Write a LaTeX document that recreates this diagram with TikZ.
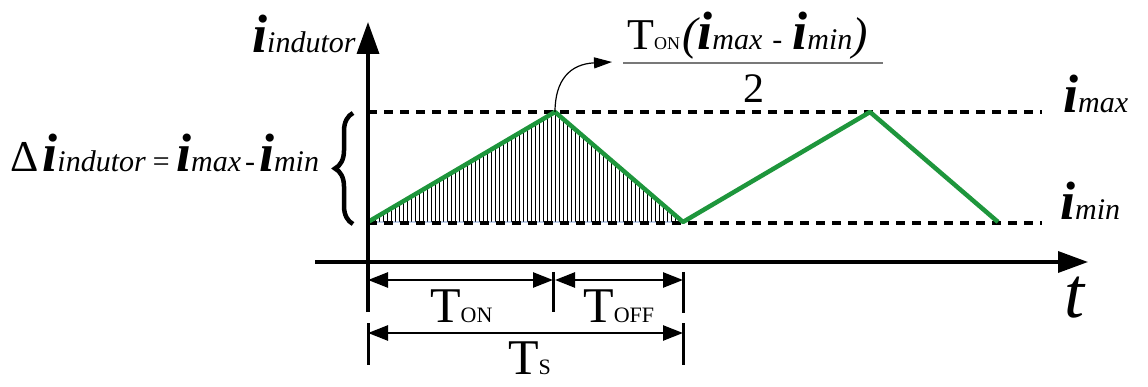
\documentclass[tikz,border=0pt]{standalone}
\usepackage{fontspec}
\setmainfont{Liberation Serif}
\usetikzlibrary{arrows.meta,decorations.pathreplacing}
\definecolor{wavegreen}{RGB}{30,150,60}
\definecolor{hatchedge}{RGB}{80,120,190}
\definecolor{fracgray}{RGB}{120,120,120}
\newcommand\bigI{{\fontsize{54}{54}\selectfont\bfseries\itshape i}}
\newcommand\subI[1]{{\fontsize{30}{30}\selectfont\itshape #1}}
\newcommand\Tlab[1]{{\fontsize{50}{50}\selectfont T}{\fontsize{22}{22}\selectfont #1}}
\begin{document}
\begin{tikzpicture}[x=1pt,y=-1pt,
  lab/.style={inner sep=0pt, anchor=base west},
  axis/.style={line width=3.5pt},
  level/.style={line width=3.5pt, dash pattern=on 9pt off 7pt},
  ripple/.style={wavegreen, line width=4.5pt, line join=round},
  dim/.style={line width=2.5pt, {Triangle[length=20pt,width=15pt]}-{Triangle[length=20pt,width=15pt]}},
  tickline/.style={line width=3pt},
]
\useasboundingbox (0,0) rectangle (1148,387);
% key points
\coordinate (p0) at (368,222);
\coordinate (p1) at (555,112);
\coordinate (p2) at (683,222);
\coordinate (p3) at (870,112);
\coordinate (p4) at (998,222);
% hatched area
\begin{scope}
  \clip (p0) -- (p1) -- (p2) -- cycle;
  \foreach \x in {371,375,...,683} \draw[line width=0.7pt] (\x,100) -- (\x,230);
\end{scope}
\draw[hatchedge, line width=0.9pt] (p0) -- (p1) -- (p2) -- cycle;
% levels
\coordinate (maxa) at (368,112); \coordinate (maxb) at (1042,112);
\coordinate (mina) at (368,223); \coordinate (minb) at (1042,223);
\draw[level] (maxa) -- (maxb);
\draw[level] (mina) -- (minb);
% waveform
\draw[ripple] (p0) -- (p1) -- (p2) -- (p3) -- (p4);
% axes
\coordinate (yb) at (368,312); \coordinate (yt) at (368,22);
\coordinate (xl) at (315,262); \coordinate (xr) at (1088,262);
\draw[axis, -{Triangle[length=32pt,width=22pt]}] (yb) -- (yt);
\draw[axis, -{Triangle[length=30pt,width=21pt]}] (xl) -- (xr);
% ticks
\coordinate (t1a) at (553,272); \coordinate (t1b) at (553,312);
\coordinate (t2a) at (683,272); \coordinate (t2b) at (683,313);
\coordinate (t3a) at (368,323); \coordinate (t3b) at (368,365);
\coordinate (t4a) at (683,323); \coordinate (t4b) at (683,365);
\draw[tickline] (t1a) -- (t1b);
\draw[tickline] (t2a) -- (t2b);
\draw[tickline] (t3a) -- (t3b);
\draw[tickline] (t4a) -- (t4b);
% dimension arrows
\coordinate (d1a) at (368,280); \coordinate (d1b) at (553,280);
\coordinate (d2a) at (555,280); \coordinate (d2b) at (683,280);
\coordinate (d3a) at (368,333); \coordinate (d3b) at (683,333);
\draw[dim] (d1a) -- (d1b);
\draw[dim] (d2a) -- (d2b);
\draw[dim] (d3a) -- (d3b);
% labels
\node[lab] (ton) at (430,322) {\Tlab{ON}};
\node[lab] (toff) at (583,322) {\Tlab{OFF}};
\node[lab] (ts) at (508,374) {\Tlab{S}};
\node[lab] (ylab) at (252,53) {\bigI\subI{indutor}};
\node[lab] (delta) at (10,172) {{\fontsize{44}{44}\selectfont Δ}\hspace{4pt}\bigI\subI{indutor}\hspace{5pt}\subI{=}\hspace{5pt}\bigI\subI{max}\hspace{4pt}\subI{-}\hspace{4pt}\bigI\subI{min}};
\node[lab] (imax) at (1063,113) {\bigI\subI{max}};
\node[lab] (imin) at (1060,220) {\bigI\subI{min}};
\node[lab] (tlab) at (1064,317) {{\fontsize{72}{72}\selectfont\itshape t}};
% brace
\coordinate (ba) at (353,224); \coordinate (bb) at (353,113);
\draw[decorate, decoration={brace, amplitude=18pt}, line width=4.5pt] (ba) -- (bb);
% fraction
\node[lab] (num) at (627,50) {{\fontsize{44}{44}\selectfont T}{\fontsize{18}{18}\selectfont ON}\hspace{2pt}{\fontsize{46}{46}\selectfont\itshape(}\bigI\subI{max}\hspace{10pt}\subI{-}\hspace{10pt}\bigI\subI{min}{\fontsize{46}{46}\selectfont\itshape)}};
\node[inner sep=0pt, anchor=base] (den) at (754,103) {\fontsize{42}{42}\selectfont 2};
\coordinate (fa) at (623,63); \coordinate (fb) at (883,63);
\draw[fracgray, line width=2pt] (fa) -- (fb);
\coordinate (cfrac) at (612,62);
\draw[line width=1.2pt, -{Triangle[length=18pt,width=11pt]}] (p1) .. controls (555,80) and (570,64) .. (cfrac);
\end{tikzpicture}
\end{document}
